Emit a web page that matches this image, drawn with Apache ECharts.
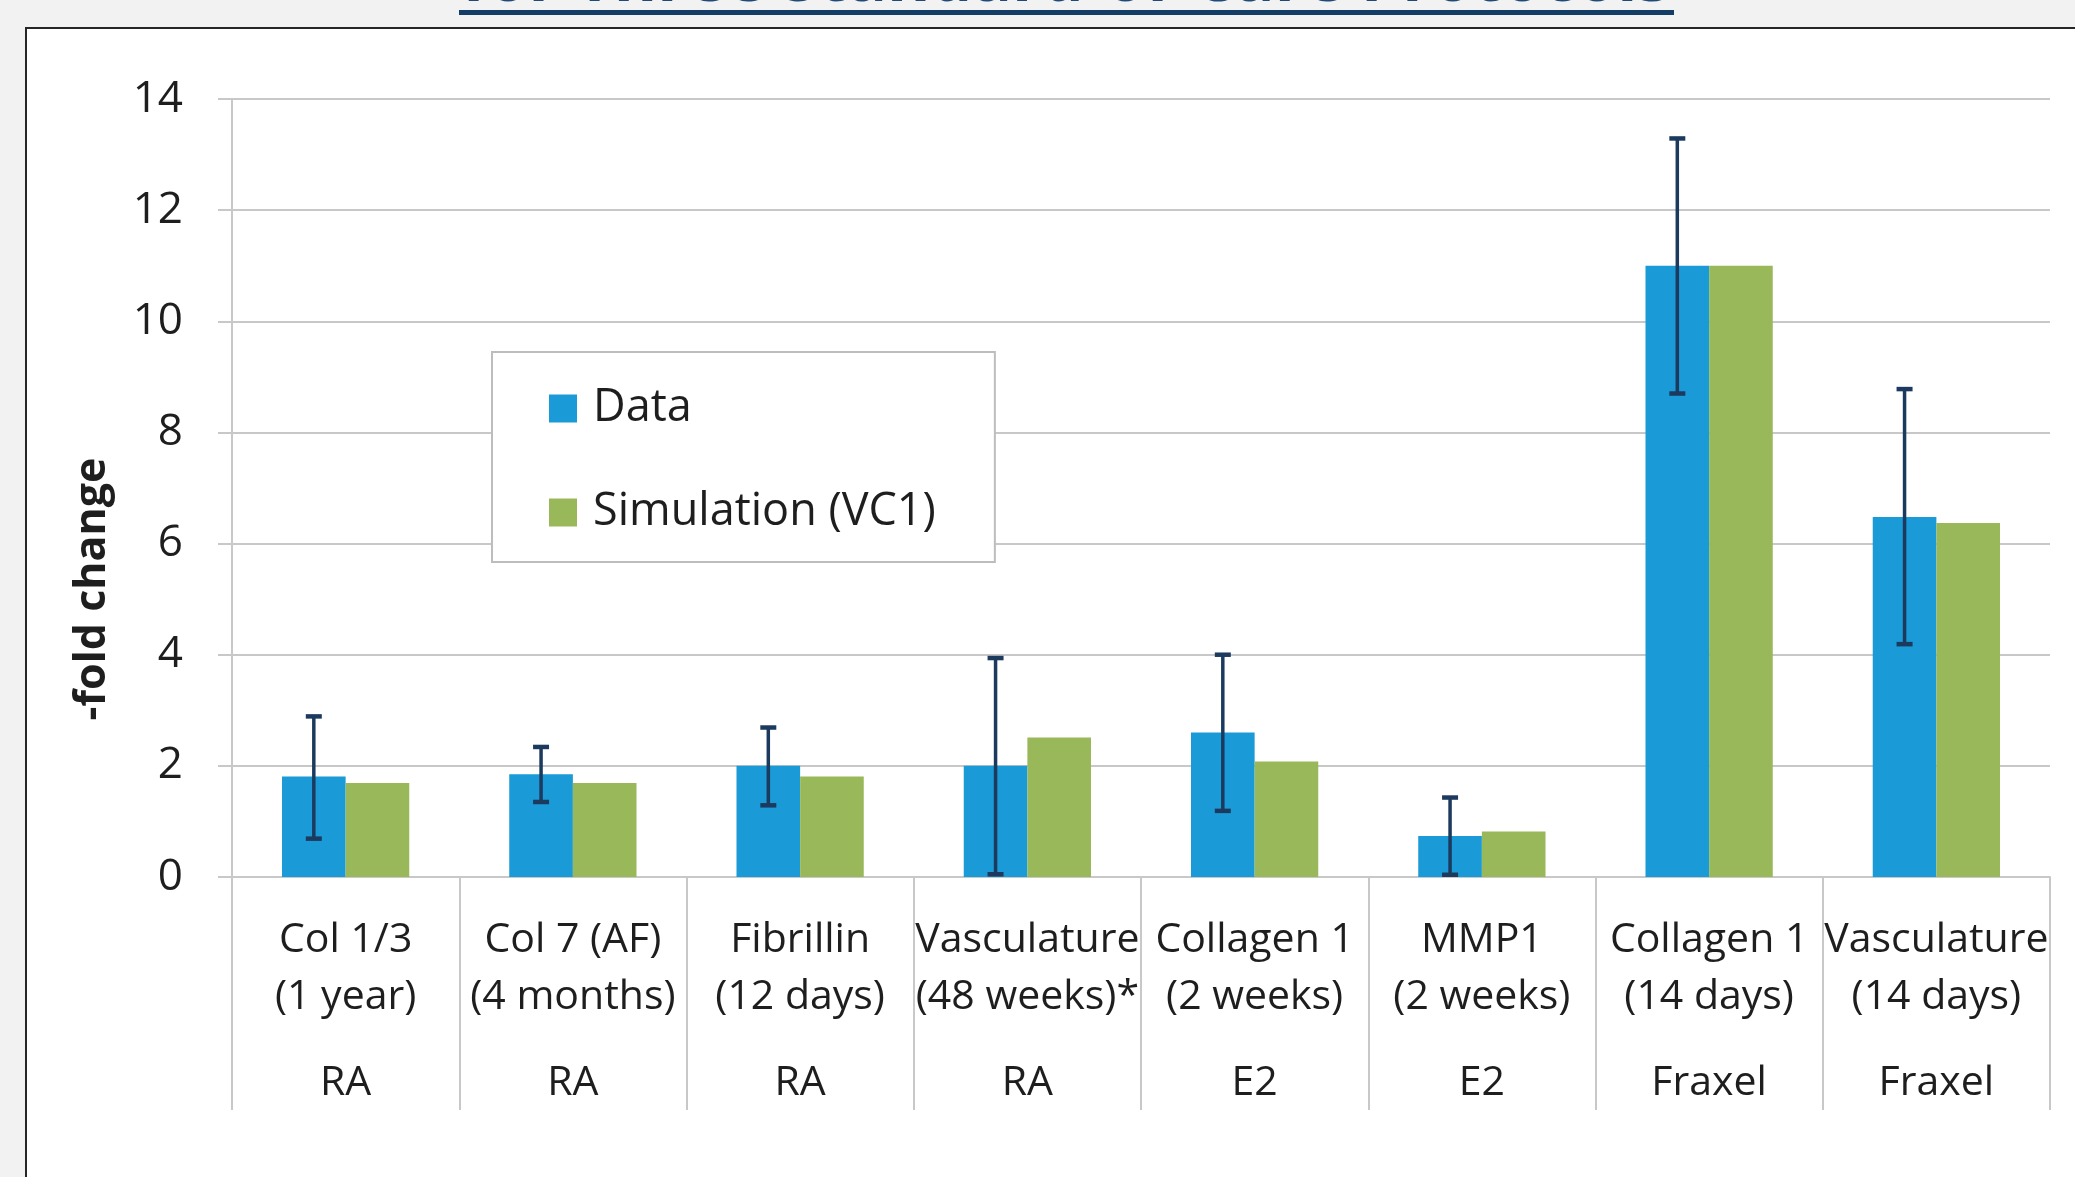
<!DOCTYPE html>
<html>
<head>
<meta charset="utf-8">
<script src="https://cdn.jsdelivr.net/npm/echarts@6/dist/echarts.min.js"></script>
<style>
html,body{margin:0;padding:0;background:#f2f2f2;}
#chart{width:2075px;height:1177px;}
</style>
</head>
<body>
<div id="chart"></div>
<script>
// ---- data ----
const markerNames = ['Col 1/3','Col 7 (AF)','Fibrillin','Vasculature','Collagen 1','MMP1','Collagen 1','Vasculature'];
const durations   = ['(1 year)','(4 months)','(12 days)','(48 weeks)*','(2 weeks)','(2 weeks)','(14 days)','(14 days)'];
const treatments  = ['RA','RA','RA','RA','E2','E2','Fraxel','Fraxel'];
const dataValues  = [1.81, 1.85, 2.00, 2.00, 2.60, 0.74, 11.00, 6.48];
const simValues   = [1.69, 1.69, 1.81, 2.51, 2.08, 0.82, 11.00, 6.37];
const errLow      = [0.69, 1.35, 1.29, 0.05, 1.19, 0.04, 8.70, 4.19];
const errHigh     = [2.89, 2.34, 2.69, 3.94, 4.00, 1.43, 13.29, 8.78];
const seriesNames = ['Data', 'Simulation (VC1)'];
const yTicks = [0, 2, 4, 6, 8, 10, 12, 14];

const categories = markerNames.map((m, i) => m + '\n' + durations[i] + '\n' + treatments[i]);
const errData = categories.map((c, i) => [i, errLow[i], errHigh[i]]);

const BAR_FRAC = 0.28;
const FONT = "'Open Sans', 'Noto Sans', sans-serif";
const TXT = '#1e1e1e';
const GRID = '#c8c8c8';

const chart = echarts.init(document.getElementById('chart'), null, {renderer: 'canvas'});
chart.setOption({
  backgroundColor: '#f2f2f2',
  animation: false,
  graphic: [
    {type: 'rect', z: -10, shape: {x: 26, y: 28, width: 2100, height: 1200},
     style: {fill: '#ffffff', stroke: '#262626', lineWidth: 2}},
    {type: 'rect', z: -6, shape: {x: 459, y: 10, width: 1215, height: 5},
     style: {fill: '#143d66'}},
    {type: 'text', z: -5, x: 462, y: 15,
     style: {text: 'for Three Standard-of-Care Protocols', font: "bold 66px 'Open Sans'", fill: '#1f4a78', verticalAlign: 'bottom'}}
  ],
  grid: {left: 232, right: 25, top: 99, bottom: 300, containLabel: false},
  legend: {
    data: seriesNames,
    orient: 'vertical',
    left: 492, top: 352,
    padding: [34, 59, 27, 57],
    itemWidth: 28, itemHeight: 28, itemGap: 59,
    icon: 'rect',
    backgroundColor: '#ffffff',
    borderColor: '#bdbdbd', borderWidth: 2,
    textStyle: {fontFamily: FONT, fontSize: 45, color: TXT, lineHeight: 44, padding: [0, 0, 0, 11]}
  },
  xAxis: {
    type: 'category',
    data: categories,
    axisLine: {show: true, lineStyle: {color: GRID, width: 2}},
    axisTick: {show: true, interval: 0, length: 233, lineStyle: {color: GRID, width: 2}},
    axisLabel: {
      interval: 0, margin: 35,
      formatter: function (v) {
        const p = v.split('\n');
        return '{a|' + p[0] + '}\n{a|' + p[1] + '}\n{b|' + p[2] + '}';
      },
      rich: {
        a: {fontFamily: FONT, fontSize: 41, color: TXT, lineHeight: 57},
        b: {fontFamily: FONT, fontSize: 41, color: TXT, lineHeight: 114}
      }
    }
  },
  yAxis: {
    type: 'value', min: 0, max: 14, interval: 2,
    name: '-fold change', nameLocation: 'middle', nameGap: 118,
    nameTextStyle: {fontFamily: FONT, fontSize: 43, fontWeight: 'bold', color: TXT, padding: [0, 202, 0, 0]},
    axisLine: {show: true, lineStyle: {color: GRID, width: 2}},
    axisTick: {show: true, length: 14, lineStyle: {color: GRID, width: 2}},
    splitLine: {show: true, lineStyle: {color: GRID, width: 2}},
    axisLabel: {
      margin: 49, fontFamily: FONT, fontSize: 44, color: TXT,
      formatter: function (v) { return yTicks.indexOf(v) >= 0 ? String(v) : ''; }
    }
  },
  series: [
    {name: seriesNames[0], type: 'bar', data: dataValues, barWidth: (BAR_FRAC * 100) + '%', barGap: '0%',
     itemStyle: {color: '#1a9ad6'}},
    {name: seriesNames[1], type: 'bar', data: simValues, barWidth: (BAR_FRAC * 100) + '%', barGap: '0%',
     itemStyle: {color: '#98b859'}},
    {name: 'err', type: 'custom', z: 10, data: errData,
     renderItem: function (params, api) {
       const i = api.value(0);
       const lo = api.coord([i, api.value(1)]);
       const hi = api.coord([i, api.value(2)]);
       const band = api.size([1, 0])[0];
       const x = lo[0] - band * BAR_FRAC / 2;
       const cap = 8;
       const st = {stroke: '#1c3a5e', lineWidth: 3.5};
       return {type: 'group', children: [
         {type: 'line', shape: {x1: x, y1: lo[1], x2: x, y2: hi[1]}, style: st},
         {type: 'line', shape: {x1: x - cap, y1: hi[1], x2: x + cap, y2: hi[1]}, style: {stroke: '#1c3a5e', lineWidth: 4.5}},
         {type: 'line', shape: {x1: x - cap, y1: lo[1], x2: x + cap, y2: lo[1]}, style: {stroke: '#1c3a5e', lineWidth: 4.5}}
       ]};
     }}
  ]
});
</script>
</body>
</html>
